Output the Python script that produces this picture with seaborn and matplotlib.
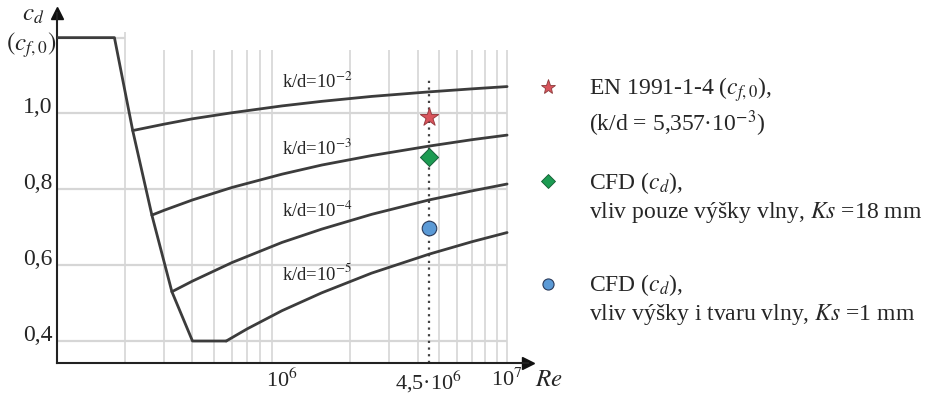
import numpy as np
import pandas as pd
import matplotlib
matplotlib.use("Agg")
import matplotlib.pyplot as plt
import seaborn as sns

# envelope: upper plateau, steep drop, lower plateau
re_env = [1.0e5, 1.8e5, 2.17e5, 2.64e5, 3.24e5, 4.0e5, 5.65e5]
cd_env = [1.20, 1.20, 0.955, 0.732, 0.530, 0.400, 0.400]

# k/d curves
re_kd2 = [2.17e5, 3e5, 4e5, 6e5, 1e6, 1.5e6, 2.5e6, 4.5e6, 7e6, 1e7]
cd_kd2 = [0.955, 0.972, 0.986, 1.002, 1.020, 1.032, 1.045, 1.057, 1.065, 1.071]
re_kd3 = [2.64e5, 3e5, 4e5, 6e5, 1e6, 1.5e6, 2.5e6, 4.5e6, 7e6, 1e7]
cd_kd3 = [0.732, 0.745, 0.772, 0.805, 0.840, 0.864, 0.889, 0.914, 0.931, 0.943]
re_kd4 = [3.24e5, 4e5, 6e5, 1e6, 1.5e6, 2.5e6, 4.5e6, 7e6, 1e7]
cd_kd4 = [0.530, 0.558, 0.607, 0.660, 0.695, 0.734, 0.772, 0.796, 0.814]
re_kd5 = [5.65e5, 7e5, 1e6, 1.5e6, 2.5e6, 4.5e6, 7e6, 1e7]
cd_kd5 = [0.400, 0.432, 0.480, 0.527, 0.579, 0.629, 0.662, 0.686]

curve_names = ["env", "1e-2", "1e-3", "1e-4", "1e-5"]
curve_labels = ["k/d=10$^{-2}$", "k/d=10$^{-3}$", "k/d=10$^{-4}$", "k/d=10$^{-5}$"]
label_cd = [1.067, 0.890, 0.727, 0.561]

# points at Re = 4.5e6
re_point = 4.5e6
cd_en = 0.992     # EN 1991-1-4
cd_cfd18 = 0.885  # CFD, Ks = 18 mm
cd_cfd1 = 0.698   # CFD, Ks = 1 mm

ytick_vals = [0.4, 0.6, 0.8, 1.0]
ytick_labels = ["0,4", "0,6", "0,8", "1,0"]
xtick_vals = [1e6, 4.5e6, 1e7]
xtick_labels = ["10$^6$", "4,5·10$^6$", "10$^7$"]

rows = []
for name, xs, ys in zip(curve_names,
                        [re_env, re_kd2, re_kd3, re_kd4, re_kd5],
                        [cd_env, cd_kd2, cd_kd3, cd_kd4, cd_kd5]):
    for x, y in zip(xs, ys):
        rows.append({"curve": name, "Re": x, "cd": y})
df = pd.DataFrame(rows)

sns.set_style("white")
plt.rcParams["font.family"] = ["Liberation Serif", "DejaVu Serif"]
plt.rcParams["mathtext.fontset"] = "stix"

W, H = 932, 394
fig = plt.figure(figsize=(W / 100, H / 100), dpi=100)
ax = fig.add_axes([57 / W, 31 / H, 471 / W, 350 / H])
ax.set_xscale("log")
ax.set_xlim(1e5, 10 ** 7.093)
ax.set_ylim(0.342, 1.265)

grid_c = "#d6d6d6"
minor = [m * 10 ** e for e in (5, 6) for m in range(2, 10)] + [1e7]
ax.vlines(minor, 0.342, 1.167, color=grid_c, lw=1.2, zorder=1)
ax.vlines(2e5, 1.167, 1.215, color=grid_c, lw=1.2, zorder=1)
ax.hlines(ytick_vals, 1e5, 1e7, color=grid_c, lw=1.6, zorder=1)
ax.hlines(1.2, 1e5, 2e5, color=grid_c, lw=1.6, zorder=1)

sns.lineplot(data=df, x="Re", y="cd", hue="curve", units="curve", estimator=None,
             sort=False, palette=["#3c3c3c"] * 5, linewidth=2.0, legend=False,
             ax=ax, zorder=3)

ax.vlines(re_point, 0.342, 1.096, color="#444444", lw=1.6, ls=(0, (1, 2)), zorder=2)

sns.scatterplot(x=[re_point], y=[cd_en], marker="*", s=190, color="#d9545c",
                edgecolor="#9a3b40", linewidth=0.7, ax=ax, zorder=4)
sns.scatterplot(x=[re_point], y=[cd_cfd18], marker="D", s=85, color="#1c9b52",
                edgecolor="#16603a", linewidth=0.7, ax=ax, zorder=4)
sns.scatterplot(x=[re_point], y=[cd_cfd1], marker="o", s=110, color="#5b9ad6",
                edgecolor="#2a3a5a", linewidth=0.8, ax=ax, zorder=4)

for txt, yv in zip(curve_labels, label_cd):
    ax.text(1.0e6, yv, txt, fontsize=13.5, ha="left", va="baseline", zorder=5)

ax.set_yticks(ytick_vals)
ax.set_yticklabels(ytick_labels, fontsize=17)
for lab in ax.get_yticklabels():
    lab.set_va("baseline")
ax.set_xticks(xtick_vals)
ax.set_xticklabels(xtick_labels, fontsize=16)
ax.minorticks_off()
ax.tick_params(length=0, pad=3)
ax.tick_params(axis="x", pad=4)
ax.set_xlabel("")
ax.set_ylabel("")
for s in ["top", "right"]:
    ax.spines[s].set_visible(False)
for s in ["left", "bottom"]:
    ax.spines[s].set_color("#222222")
    ax.spines[s].set_linewidth(1.5)
ax.plot(1, 0, ">", color="#111111", ms=9, transform=ax.transAxes, clip_on=False)
ax.plot(0, 1, "^", color="#111111", ms=9, transform=ax.transAxes, clip_on=False)

# overlay in pixel coordinates for titles and the legend
lax = fig.add_axes([0, 0, 1, 1], zorder=-1)
lax.set_xlim(0, W)
lax.set_ylim(H, 0)
lax.axis("off")

lax.text(135, 44, "k/d...poměr drsnosti k průměru komína", fontsize=17, va="baseline")
lax.text(33, 21, "$c_d$", fontsize=18, ha="center", va="baseline")
lax.text(31, 51, "$(c_{f,0})$", fontsize=18, ha="center", va="baseline")
lax.text(535, 386, "$Re$", fontsize=18, ha="left", va="baseline")

lax.plot(548, 87, "*", ms=11, color="#d9545c", mec="#8a3a3a", mew=0.6)
lax.plot(548, 181, "D", ms=7, color="#1c9b52", mec="#145a32", mew=0.6)
lax.plot(548, 284, "o", ms=8, color="#5b9ad6", mec="#2a3a5a", mew=0.8)

tx = 589
fs = 17
lax.text(tx, 95, "EN 1991-1-4 ($c_{f,0}$),", fontsize=fs, va="baseline")
lax.text(tx, 131, "(k/d = 5,357·10$^{-3}$)", fontsize=fs, va="baseline")
lax.text(tx, 189, "CFD ($c_d$),", fontsize=fs, va="baseline")
lax.text(tx, 218, "vliv pouze výšky vlny, $Ks$ =18 mm", fontsize=fs, va="baseline")
lax.text(tx, 291, "CFD ($c_d$),", fontsize=fs, va="baseline")
lax.text(tx, 320, "vliv výšky i tvaru vlny, $Ks$ =1 mm", fontsize=fs, va="baseline")

fig.savefig("out.png", dpi=100)
